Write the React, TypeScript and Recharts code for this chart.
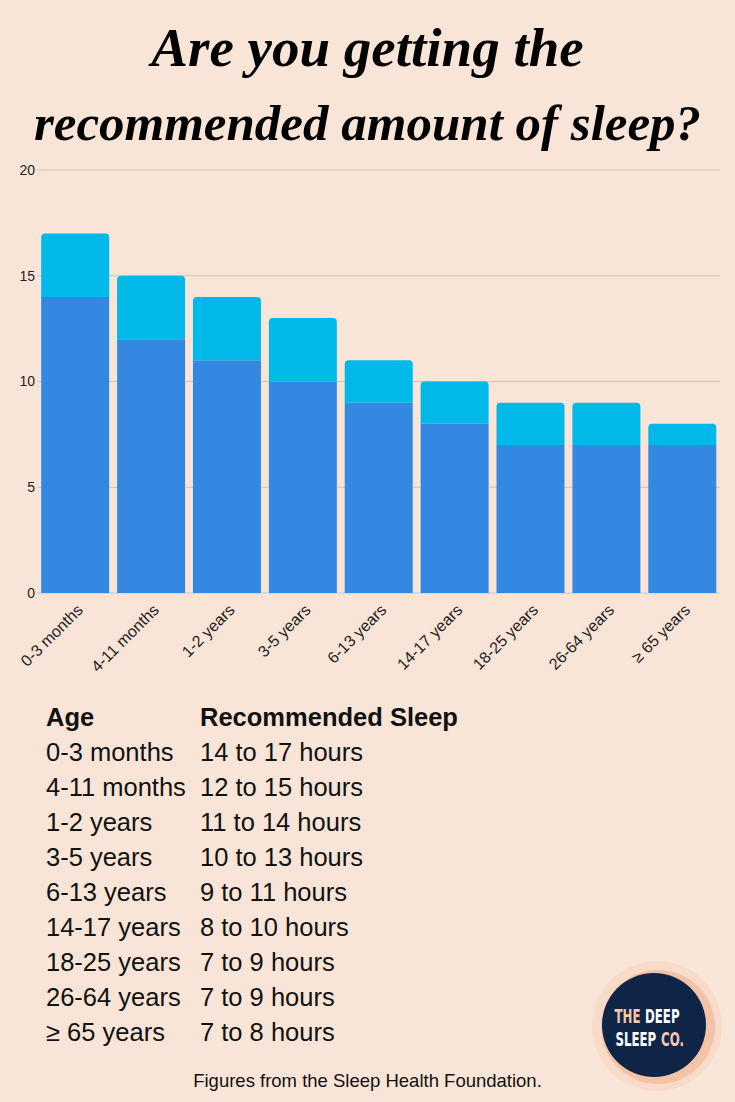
import React from 'react';
import { BarChart, Bar, XAxis, YAxis, CartesianGrid } from 'recharts';

// age groups and recommended hours (min / max)
const ageGroups = ['0-3 months', '4-11 months', '1-2 years', '3-5 years', '6-13 years', '14-17 years', '18-25 years', '26-64 years', '≥ 65 years'];
const minHours = [14, 12, 11, 10, 9, 8, 7, 7, 7];
const maxHours = [17, 15, 14, 13, 11, 10, 9, 9, 8];
const yTicks = [0, 5, 10, 15, 20];

const BG = '#F9E5D7';
const BLUE = '#3389E1';
const CYAN = '#00B9E9';

const chartData = ageGroups.map((age, i) => ({
  age,
  min: minHours[i],
  extra: maxHours[i] - minHours[i],
}));

const AgeTick = ({ x, y, payload }: any) => (
  <g transform={`translate(${x + 9},${y + 10})`}>
    <text textAnchor="end" transform="rotate(-45)" fontSize={16} fill="#222" fontFamily="'Liberation Sans', Arial, sans-serif">
      {payload.value}
    </text>
  </g>
);

// condensed word for the logo
const LogoWord = ({ x, y, color, children }: any) => (
  <text
    transform={`translate(${x},${y}) scale(0.59,1)`}
    fontFamily="'DejaVu Sans', sans-serif"
    fontWeight="bold"
    fontSize={20}
    fill={color}
  >
    {children}
  </text>
);

function Logo() {
  const peach = '#F3C8AE';
  return (
    <svg width={140} height={140} style={{ position: 'absolute', left: 585, top: 955 }}>
      <circle cx={72} cy={71} r={65} fill="#F8DBC9" />
      <circle cx={73} cy={72} r={57} fill="#F2C3A6" />
      <circle cx={69} cy={70} r={52} fill="#0F2547" />
      <LogoWord x={29.5} y={67.5} color={peach}>THE</LogoWord>
      <LogoWord x={60} y={67.5} color="#FFFFFF">DEEP</LogoWord>
      <LogoWord x={30.5} y={91} color="#FFFFFF">SLEEP</LogoWord>
      <LogoWord x={76} y={91} color={peach}>CO.</LogoWord>
    </svg>
  );
}

export default function App() {
  const tableFont = "'Liberation Sans', Arial, sans-serif";
  const titleStyle: React.CSSProperties = {
    position: 'absolute',
    left: 0,
    width: 735,
    textAlign: 'center',
    whiteSpace: 'nowrap',
    fontFamily: "'Liberation Serif', serif",
    fontStyle: 'italic',
    fontWeight: 'bold',
    color: '#000',
  };
  return (
    <div style={{ position: 'absolute', left: 0, top: 0, width: 735, height: 1102, background: BG, overflow: 'hidden' }}>
      {/* 見出し */}
      <div style={{ ...titleStyle, top: 11, fontSize: 55, lineHeight: '74px' }}>Are you getting the</div>
      <div style={{ ...titleStyle, top: 86, fontSize: 51, lineHeight: '74px' }}>recommended amount of sleep?</div>

      <div style={{ position: 'absolute', left: 0, top: 160 }}>
        <BarChart width={735} height={540} data={chartData} margin={{ top: 10, right: 15, left: 0, bottom: 17 }} barCategoryGap="5.5%">
          <CartesianGrid vertical={false} stroke="#D6C2B4" />
          <XAxis dataKey="age" interval={0} tickLine={false} axisLine={false} height={90} tick={<AgeTick />} />
          <YAxis
            domain={[0, 20]}
            ticks={yTicks}
            width={37}
            tickLine={false}
            axisLine={false}
            tickSize={0}
            tickMargin={2}
            tick={{ fill: '#222', fontSize: 14, fontFamily: "'Liberation Sans', Arial, sans-serif" }}
          />
          <Bar dataKey="min" stackId="a" fill={BLUE} isAnimationActive={false} />
          <Bar dataKey="extra" stackId="a" fill={CYAN} radius={[4, 4, 0, 0]} isAnimationActive={false} />
        </BarChart>
      </div>

      <div style={{ position: 'absolute', left: 46, top: 700, fontFamily: tableFont, fontSize: 25.5, lineHeight: '35px', color: '#111' }}>
        <div style={{ display: 'flex', fontWeight: 'bold' }}>
          <div style={{ width: 154 }}>Age</div>
          <div>Recommended Sleep</div>
        </div>
        {ageGroups.map((age, i) => (
          <div key={age} style={{ display: 'flex' }}>
            <div style={{ width: 154 }}>{age}</div>
            <div>{`${minHours[i]} to ${maxHours[i]} hours`}</div>
          </div>
        ))}
      </div>

      <div style={{ position: 'absolute', left: 0, top: 1070, width: 735, textAlign: 'center', fontFamily: tableFont, fontSize: 18.5, color: '#111' }}>
        Figures from the Sleep Health Foundation.
      </div>

      <Logo />
    </div>
  );
}
